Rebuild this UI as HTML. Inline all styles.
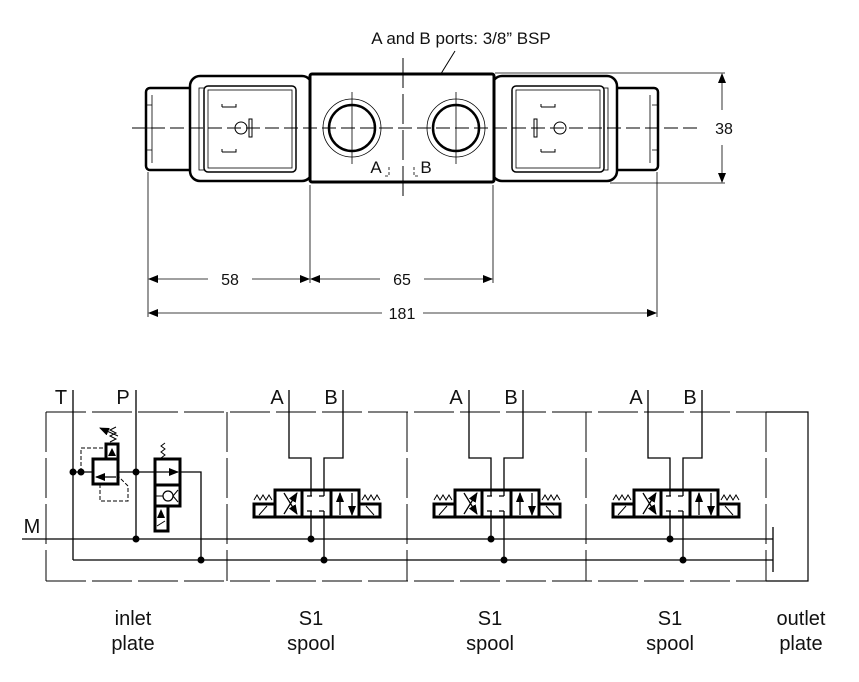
<!DOCTYPE html>
<html><head><meta charset="utf-8"><style>
html,body{margin:0;padding:0;background:#fff}
svg{display:block}
text{font-family:"Liberation Sans",Arial,sans-serif;fill:#111}
</style></head><body>
<svg width="859" height="682" viewBox="0 0 859 682" xmlns="http://www.w3.org/2000/svg">
<defs>
<marker id="ar" markerWidth="10" markerHeight="8" refX="9" refY="4" orient="auto" markerUnits="userSpaceOnUse"><path d="M0,0 L10,4 L0,8 z" fill="#000"/></marker>
<g id="spool">
  <polyline points="289,390 289,458 311,458 311,489" fill="none" stroke="#000" stroke-width="1.3"/>
  <polyline points="343,390 343,458 324,458 324,489" fill="none" stroke="#000" stroke-width="1.3"/>
  <line x1="311" y1="516" x2="311" y2="539" stroke="#000" stroke-width="1.3"/>
  <line x1="324" y1="516" x2="324" y2="560" stroke="#000" stroke-width="1.3"/>
  <circle cx="311" cy="539" r="3.5" fill="#000"/>
  <circle cx="324" cy="560" r="3.5" fill="#000"/>
  <rect x="275" y="490" width="84" height="27" fill="#fff" stroke="#000" stroke-width="3"/>
  <line x1="302" y1="490" x2="302" y2="517" stroke="#000" stroke-width="3"/>
  <line x1="331" y1="490" x2="331" y2="517" stroke="#000" stroke-width="3"/>
  <rect x="254" y="504" width="21" height="13" fill="#fff" stroke="#000" stroke-width="3"/>
  <rect x="359" y="504" width="21" height="13" fill="#fff" stroke="#000" stroke-width="3"/>
  <line x1="259" y1="515" x2="267" y2="506" stroke="#000" stroke-width="1"/>
  <line x1="366" y1="506" x2="374" y2="515" stroke="#000" stroke-width="1"/>
  <polyline points="254,500 257,495 260,500 263,495 266,500 269,495 272,500" fill="none" stroke="#000" stroke-width="1"/>
  <polyline points="362,500 365,495 368,500 371,495 374,500 377,495 380,500" fill="none" stroke="#000" stroke-width="1"/>
  <line x1="284" y1="493" x2="297" y2="514" stroke="#000" stroke-width="1.3" marker-end="url(#ar)"/>
  <line x1="284" y1="514" x2="297" y2="493" stroke="#000" stroke-width="1.3" marker-end="url(#ar)"/>
  <path d="M307,496 h5 M319,496 h5 M307,511 h5 M319,511 h5 M311,490 v6 M324,490 v6 M311,511 v6 M324,511 v6" stroke="#000" stroke-width="1.3"/>
  <line x1="340" y1="515" x2="340" y2="493" stroke="#000" stroke-width="1.3" marker-end="url(#ar)"/>
  <line x1="352" y1="493" x2="352" y2="515" stroke="#000" stroke-width="1.3" marker-end="url(#ar)"/>
</g>
</defs>

<!-- TOP VIEW -->
<text x="461" y="44" font-size="17" text-anchor="middle">A and B ports: 3/8” BSP</text>
<line x1="455" y1="51" x2="426" y2="98" stroke="#000" stroke-width="1" marker-end="url(#ar)"/>
<rect x="146" y="88" width="52" height="82" rx="4" fill="#fff" stroke="#000" stroke-width="2.5"/>
<rect x="610" y="88" width="48" height="82" rx="4" fill="#fff" stroke="#000" stroke-width="2.5"/>
<path d="M152,95 v68 M190,95 v68 M616,95 v68 M650,95 v68 M146,105 h6 M146,128 h6 M146,150 h6 M652,105 h6 M652,128 h6 M652,150 h6" stroke="#000" stroke-width="0.8"/>
<rect x="190" y="76" width="122" height="105" rx="10" fill="#fff" stroke="#000" stroke-width="2.5"/>
<rect x="492" y="76" width="125" height="105" rx="10" fill="#fff" stroke="#000" stroke-width="2.5"/>
<rect x="199" y="88" width="8" height="82" fill="none" stroke="#000" stroke-width="0.8"/>
<rect x="600" y="88" width="8" height="82" fill="none" stroke="#000" stroke-width="0.8"/>
<rect x="204" y="86" width="92" height="86" rx="4" fill="#fff" stroke="#000" stroke-width="1.5"/>
<rect x="208" y="90" width="84" height="78" fill="none" stroke="#000" stroke-width="0.8"/>
<rect x="512" y="86" width="92" height="86" rx="4" fill="#fff" stroke="#000" stroke-width="1.5"/>
<rect x="516" y="90" width="84" height="78" fill="none" stroke="#000" stroke-width="0.8"/>
<circle cx="241" cy="128" r="6" fill="none" stroke="#000" stroke-width="1"/>
<circle cx="560" cy="128" r="6" fill="none" stroke="#000" stroke-width="1"/>
<rect x="249" y="119" width="3" height="18" fill="none" stroke="#000" stroke-width="1"/>
<rect x="534" y="119" width="3" height="18" fill="none" stroke="#000" stroke-width="1"/>
<path d="M222,107 h14 v-3 M222,107 v-3 M222,152 h14 v-3 M222,152 v-3 M541,107 h14 v-3 M541,107 v-3 M541,152 h14 v-3 M541,152 v-3" fill="none" stroke="#000" stroke-width="1"/>
<rect x="310" y="74" width="184" height="108" rx="2" fill="#fff" stroke="#000" stroke-width="3"/>
<circle cx="352" cy="128" r="29" fill="none" stroke="#000" stroke-width="0.8"/>
<circle cx="352" cy="128" r="23" fill="none" stroke="#000" stroke-width="2.5"/>
<circle cx="456" cy="128" r="29" fill="none" stroke="#000" stroke-width="0.8"/>
<circle cx="456" cy="128" r="23" fill="none" stroke="#000" stroke-width="2.5"/>
<path d="M352,92 v72 M456,92 v72" stroke="#000" stroke-width="0.8"/>
<text x="376" y="173" font-size="17" text-anchor="middle">A</text>
<text x="426" y="173" font-size="17" text-anchor="middle">B</text>
<path d="M389,167 v9 h-5 M414,167 v9 h5" fill="none" stroke="#000" stroke-width="0.8" stroke-dasharray="3,2"/>
<line x1="132" y1="128" x2="700" y2="128" stroke="#000" stroke-width="1" stroke-dasharray="14,5"/>
<line x1="403" y1="58" x2="403" y2="200" stroke="#000" stroke-width="1" stroke-dasharray="30,6"/>
<path d="M148,172 v145 M310,185 v98 M493,185 v98 M657,172 v145 M495,73 h230 M610,183 h115" stroke="#000" stroke-width="0.8"/>
<line x1="722" y1="110" x2="722" y2="74" stroke="#000" stroke-width="0.8" marker-end="url(#ar)"/>
<line x1="722" y1="145" x2="722" y2="182" stroke="#000" stroke-width="0.8" marker-end="url(#ar)"/>
<text x="724" y="134" font-size="16" text-anchor="middle">38</text>
<line x1="208" y1="279" x2="149" y2="279" stroke="#000" stroke-width="0.8" marker-end="url(#ar)"/>
<line x1="252" y1="279" x2="309" y2="279" stroke="#000" stroke-width="0.8" marker-end="url(#ar)"/>
<text x="230" y="285" font-size="16" text-anchor="middle">58</text>
<line x1="380" y1="279" x2="311" y2="279" stroke="#000" stroke-width="0.8" marker-end="url(#ar)"/>
<line x1="424" y1="279" x2="492" y2="279" stroke="#000" stroke-width="0.8" marker-end="url(#ar)"/>
<text x="402" y="285" font-size="16" text-anchor="middle">65</text>
<line x1="382" y1="313" x2="149" y2="313" stroke="#000" stroke-width="0.8" marker-end="url(#ar)"/>
<line x1="423" y1="313" x2="656" y2="313" stroke="#000" stroke-width="0.8" marker-end="url(#ar)"/>
<text x="402" y="319" font-size="16" text-anchor="middle">181</text>

<!-- SCHEMATIC -->
<g fill="none" stroke="#000" stroke-width="1" stroke-dasharray="40,6">
<path d="M46,412 H808 M46,581 H808 M46,412 V581 M227,412 V581 M407,412 V581 M586,412 V581 M766,412 V581"/>
</g>
<path d="M766,412 H808 V581 H766" fill="none" stroke="#000" stroke-width="1.2"/>
<g font-size="20" text-anchor="middle">
<text x="61" y="404">T</text>
<text x="123" y="404">P</text>
<text x="32" y="533">M</text>
<text x="277" y="404">A</text><text x="331" y="404">B</text>
<text x="456" y="404">A</text><text x="511" y="404">B</text>
<text x="636" y="404">A</text><text x="690" y="404">B</text>
</g>
<g stroke="#000" stroke-width="1.3" fill="none">
<path d="M22,539 H773 M73,560 H773 M773,527 V572 M73,390 V560 M136,390 V539 M73,472 H92 M118,472 H201 V560"/>
</g>
<circle cx="73" cy="472" r="3.5"/><circle cx="81" cy="472" r="3.5"/><circle cx="136" cy="472" r="3.5"/>
<circle cx="136" cy="539" r="3.5"/><circle cx="201" cy="560" r="3.5"/>
<path d="M81,472 V448 H105 M100,484 V501 H128 V486 L118,476" fill="none" stroke="#000" stroke-width="1" stroke-dasharray="4,2"/>
<rect x="93" y="459" width="25" height="25" fill="#fff" stroke="#000" stroke-width="3"/>
<line x1="116" y1="477" x2="96" y2="477" stroke="#000" stroke-width="1.2" marker-end="url(#ar)"/>
<rect x="106" y="444" width="12" height="15" fill="#fff" stroke="#000" stroke-width="3"/>
<path d="M108,456 l4,-8 l4,8 z" fill="#000"/>
<polyline points="110,442 116,439 110,436 116,433 110,430 116,427" fill="none" stroke="#000" stroke-width="1"/>
<line x1="118" y1="436" x2="100" y2="428" stroke="#000" stroke-width="1" marker-end="url(#ar)"/>
<rect x="155" y="459" width="25" height="47" fill="#fff" stroke="#000" stroke-width="3"/>
<line x1="155" y1="485" x2="180" y2="485" stroke="#000" stroke-width="3"/>
<line x1="155" y1="472" x2="178" y2="472" stroke="#000" stroke-width="1.2" marker-end="url(#ar)"/>
<circle cx="168" cy="496" r="5" fill="#fff" stroke="#000" stroke-width="1.2"/>
<path d="M155,496 H163 M173,496 L178,490 M173,496 L178,502" stroke="#000" stroke-width="1"/>
<rect x="155" y="506" width="13" height="25" fill="#fff" stroke="#000" stroke-width="3"/>
<path d="M157,518 l4,-9 l4,9 z" fill="#000"/>
<line x1="157" y1="526" x2="165" y2="521" stroke="#000" stroke-width="1"/>
<polyline points="161,458 165,455 161,452 165,449 161,446 165,443" fill="none" stroke="#000" stroke-width="1"/>
<use href="#spool"/>
<use href="#spool" x="180"/>
<use href="#spool" x="359"/>
<g font-size="20" text-anchor="middle">
<text x="133" y="625">inlet</text><text x="133" y="650">plate</text>
<text x="311" y="625">S1</text><text x="311" y="650">spool</text>
<text x="490" y="625">S1</text><text x="490" y="650">spool</text>
<text x="670" y="625">S1</text><text x="670" y="650">spool</text>
<text x="801" y="625">outlet</text><text x="801" y="650">plate</text>
</g>
</svg>
</body></html>
